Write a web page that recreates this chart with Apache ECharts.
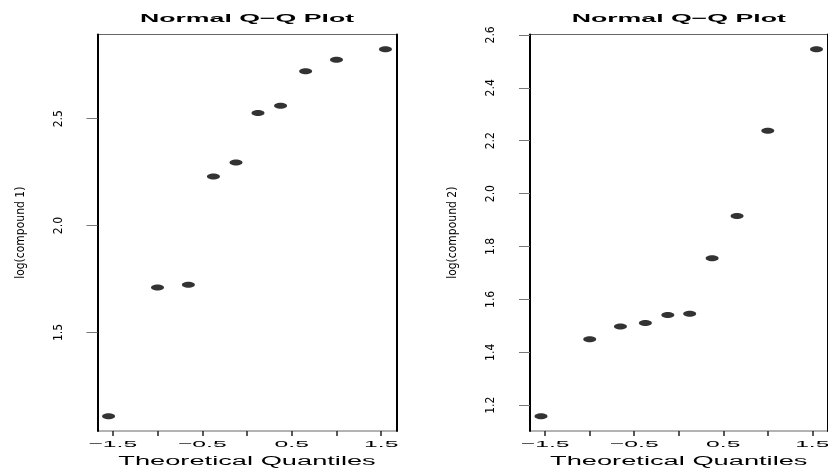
<!DOCTYPE html>
<html>
<head>
<meta charset="utf-8">
<script src="https://cdn.jsdelivr.net/npm/echarts@6/dist/echarts.min.js"></script>
<style>
  html, body { margin: 0; padding: 0; background: #fff; }
  #chart { width: 828px; height: 470px; }
</style>
</head>
<body>
<div id="chart"></div>
<script>
// data
const theoreticalQuantiles = [-1.547, -1.000, -0.655, -0.375, -0.123, 0.123, 0.375, 0.655, 1.000, 1.547];
const logCompound1 = [1.108, 1.711, 1.723, 2.230, 2.295, 2.527, 2.561, 2.722, 2.776, 2.825];
const logCompound2 = [1.158, 1.449, 1.498, 1.511, 1.541, 1.546, 1.756, 1.915, 2.238, 2.546];

const xTickValues = [-1.5, -1, -0.5, 0, 0.5, 1, 1.5];
const xLabelValues = [-1.5, -0.5, 0.5, 1.5];
const xLabelTexts = ['\u22121.5', '\u22120.5', '0.5', '1.5'];
const yTicks1 = [1.5, 2.0, 2.5];
const yTicks2 = [1.2, 1.4, 1.6, 1.8, 2.0, 2.2, 2.4, 2.6];
const panelTitles = ['Normal Q\u2212Q Plot', 'Normal Q\u2212Q Plot'];
const yNames = ['log(compound 1)', 'log(compound 2)'];
const xName = 'Theoretical Quantiles';

const FONT = 'Liberation Sans, Arial, Helvetica, sans-serif';
const NARROW = '"Liberation Sans Narrow", "DejaVu Sans Condensed", "Liberation Sans", sans-serif';

// R style 4% padding on the data range
function padRange(arr) {
  const lo = Math.min(...arr), hi = Math.max(...arr);
  const r = hi - lo;
  return [lo - 0.04 * r, hi + 0.04 * r];
}
const xRange = padRange(theoreticalQuantiles);
const yRanges = [padRange(logCompound1), padRange(logCompound2)];
const yTicks = [yTicks1, yTicks2];
const series1 = [logCompound1, logCompound2];

// ellipse, since the original picture is stretched sideways
const ellipse = 'path://M0,1C0,0.4477 0.4477,0 1,0C1.5523,0 2,0.4477 2,1C2,1.5523 1.5523,2 1,2C0.4477,2 0,1.5523 0,1Z';

const grids = [
  { left: 97.5, top: 34.5, width: 299, height: 396.5 },
  { left: 530, top: 34.5, width: 297.5, height: 396.5 }
];

const xAxes = [0, 1].map(i => ({
  type: 'value',
  gridIndex: i,
  min: xRange[0],
  max: xRange[1],
  axisLine: { show: false, onZero: false },
  axisTick: { show: true, customValues: xTickValues, length: 5, lineStyle: { color: '#222', width: 1.5 } },
  axisLabel: { show: false },
  splitLine: { show: false }
}));

const yAxes = [0, 1].map(i => ({
  type: 'value',
  gridIndex: i,
  position: 'left',
  min: yRanges[i][0],
  max: yRanges[i][1],
  name: yNames[i],
  nameLocation: 'middle',
  nameRotate: 90,
  nameGap: 71,
  nameTextStyle: { fontFamily: NARROW, fontSize: 12, color: '#000' },
  axisLine: { show: true, onZero: false, lineStyle: { color: '#000', width: 2 } },
  axisTick: { show: true, customValues: yTicks[i], length: 11, lineStyle: { color: '#777', width: 1 } },
  axisLabel: {
    show: true,
    customValues: yTicks[i],
    rotate: 90,
    margin: 33,
    fontFamily: NARROW,
    fontSize: 12,
    color: '#000',
    formatter: v => v.toFixed(1)
  },
  splitLine: { show: false }
})).concat([0, 1].map(i => ({
  // right edge of the box
  type: 'value',
  gridIndex: i,
  position: 'right',
  min: yRanges[i][0],
  max: yRanges[i][1],
  axisLine: { show: true, onZero: false, lineStyle: { color: '#000', width: 2 } },
  axisTick: { show: false },
  axisLabel: { show: false },
  splitLine: { show: false }
})));

const option = {
  animation: false,
  backgroundColor: '#fff',
  grid: grids.map(g => Object.assign({ show: true, borderColor: '#666', borderWidth: 1, backgroundColor: 'transparent', containLabel: false, outerBoundsMode: 'none' }, g)),
  xAxis: xAxes,
  yAxis: yAxes,
  series: [0, 1].map(i => ({
    type: 'scatter',
    xAxisIndex: i,
    yAxisIndex: i,
    symbol: ellipse,
    symbolSize: [13, 6],
    itemStyle: { color: '#000' },
    silent: true,
    data: theoreticalQuantiles.map((q, k) => [q, series1[i][k]])
  }))
};

const chart = echarts.init(document.getElementById('chart'));
chart.setOption(option);

// horizontal text in the reference is widened, so draw it with scaleX
function wideText(text, x, y, size, weight, sx) {
  return {
    type: 'text', x: x, y: y, scaleX: sx, silent: true,
    style: { text: text, fontFamily: FONT, fontSize: size, fontWeight: weight, fill: '#000', align: 'center', verticalAlign: 'middle' }
  };
}

const texts = [];
[0, 1].forEach(i => {
  const xl = chart.convertToPixel({ xAxisIndex: i }, xRange[0]);
  const xr = chart.convertToPixel({ xAxisIndex: i }, xRange[1]);
  const yb = chart.convertToPixel({ yAxisIndex: i }, yRanges[i][0]);
  const yt = chart.convertToPixel({ yAxisIndex: i }, yRanges[i][1]);
  const cx = (xl + xr) / 2;
  texts.push(wideText(panelTitles[i], cx, yt - 15.5, 11.5, 'bold', 2.32));
  xLabelValues.forEach((v, k) => {
    texts.push(wideText(xLabelTexts[k], chart.convertToPixel({ xAxisIndex: i }, v), yb + 13, 9.5, 'normal', 2.6));
  });
  texts.push(wideText(xName, cx, yb + 30.5, 12.5, 'normal', 2.18));
});
chart.setOption({ graphic: texts });
</script>
</body>
</html>
